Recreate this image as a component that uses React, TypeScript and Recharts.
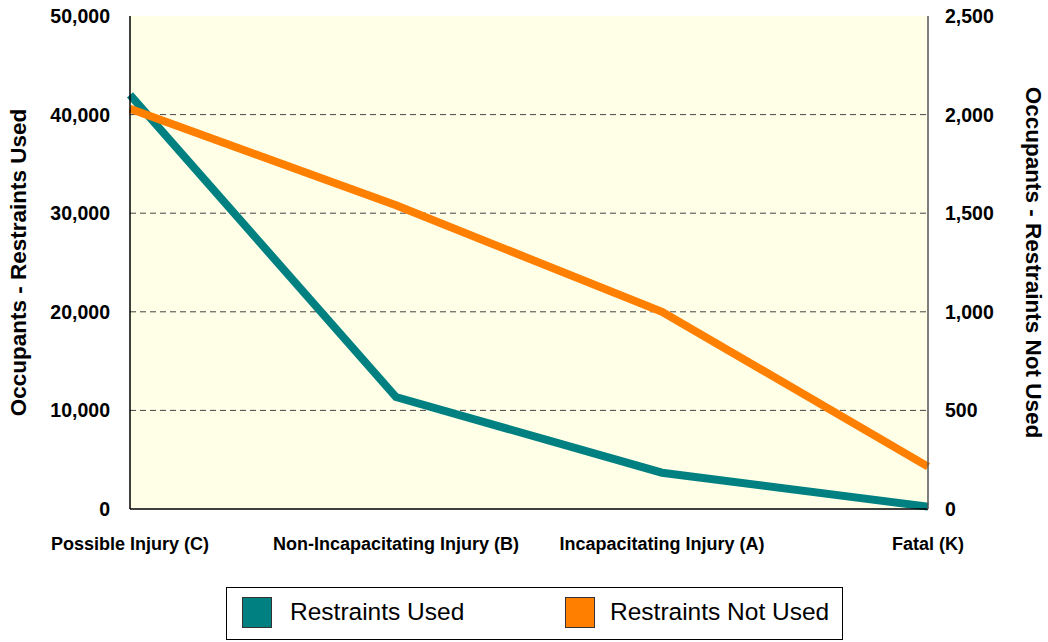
import { CartesianGrid, Line, LineChart, XAxis, YAxis } from "recharts";

const categories = [
  "Possible Injury (C)",
  "Non-Incapacitating Injury (B)",
  "Incapacitating Injury (A)",
  "Fatal (K)"
];
const restraintsUsed = [42000, 11350, 3680, 240];
const restraintsNotUsed = [2030, 1540, 1000, 215];
const leftTicks = [0, 10000, 20000, 30000, 40000, 50000];
const rightTicks = [0, 500, 1000, 1500, 2000, 2500];

const TEAL = "#008080";
const ORANGE = "#ff8000";
const FONT = "'Liberation Sans', Arial, sans-serif";

const data = categories.map((name, i) => ({
  name,
  used: restraintsUsed[i],
  notUsed: restraintsNotUsed[i]
}));

const fmt = (v: number) => v.toLocaleString("en-US");

const legendItems = [
  { label: "Restraints Used", color: TEAL, left: 15, textLeft: 63 },
  { label: "Restraints Not Used", color: ORANGE, left: 338, textLeft: 383 }
];

export default function App() {
  return (
    <div style={{ position: "absolute", left: 0, top: 0, width: 1048, height: 642, background: "#fff", fontFamily: FONT }}>
      <LineChart width={1048} height={642} data={data} margin={{ top: 16, right: 0, bottom: 0, left: 0 }}>
        <CartesianGrid
          horizontal
          vertical={false}
          fill="#ffffe8"
          stroke="#444"
          strokeDasharray="6 4"
          horizontalValues={[10000, 20000, 30000, 40000]}
          yAxisId="left"
        />
        <XAxis
          dataKey="name"
          height={133}
          tickLine={false}
          tickSize={0}
          tickMargin={28}
          axisLine={{ stroke: "#000", strokeWidth: 1.5 }}
          interval={0}
          tick={{ fontSize: 18, fontWeight: 700, fill: "#000", fontFamily: FONT }}
        />
        <YAxis
          yAxisId="left"
          width={130}
          domain={[0, 50000]}
          ticks={leftTicks}
          tickFormatter={fmt}
          tickLine={false}
          tickSize={8}
          tickMargin={12}
          axisLine={{ stroke: "#000", strokeWidth: 1.5 }}
          tick={{ fontSize: 19.5, fontWeight: 700, fill: "#000", fontFamily: FONT }}
          label={{
            value: "Occupants - Restraints Used",
            angle: -90,
            position: "insideLeft",
            offset: 18,
            style: { fontSize: 22.5, fontWeight: 700, fill: "#000", fontFamily: FONT, textAnchor: "middle" }
          }}
        />
        <YAxis
          yAxisId="right"
          orientation="right"
          width={120}
          domain={[0, 2500]}
          ticks={rightTicks}
          tickFormatter={fmt}
          tickLine={false}
          tickSize={8}
          tickMargin={9}
          axisLine={{ stroke: "#555", strokeWidth: 1.5 }}
          tick={{ fontSize: 19.5, fontWeight: 700, fill: "#000", fontFamily: FONT }}
          label={{
            value: "Occupants - Restraints Not Used",
            angle: 90,
            position: "insideRight",
            offset: 14,
            style: { fontSize: 22.5, fontWeight: 700, fill: "#000", fontFamily: FONT, textAnchor: "middle" }
          }}
        />
        <Line
          yAxisId="left"
          type="linear"
          dataKey="used"
          stroke={TEAL}
          strokeWidth={8}
          dot={false}
          activeDot={false}
          isAnimationActive={false}
        />
        <Line
          yAxisId="right"
          type="linear"
          dataKey="notUsed"
          stroke={ORANGE}
          strokeWidth={8}
          dot={false}
          activeDot={false}
          isAnimationActive={false}
        />
      </LineChart>
      <div
        style={{
          position: "absolute",
          left: 226,
          top: 587,
          width: 617,
          height: 53,
          border: "1.5px solid #000",
          boxSizing: "border-box",
          background: "#fff"
        }}
      >
        {legendItems.map((it) => (
          <div key={it.label}>
            <div
              style={{
                position: "absolute",
                left: it.left,
                top: 9,
                width: 30,
                height: 31,
                background: it.color,
                border: "1px solid #333",
                boxSizing: "border-box"
              }}
            />
            <div
              style={{
                position: "absolute",
                left: it.textLeft,
                top: 9,
                fontSize: 24.5,
                lineHeight: "30px",
                color: "#000",
                whiteSpace: "nowrap"
              }}
            >
              {it.label}
            </div>
          </div>
        ))}
      </div>
    </div>
  );
}
